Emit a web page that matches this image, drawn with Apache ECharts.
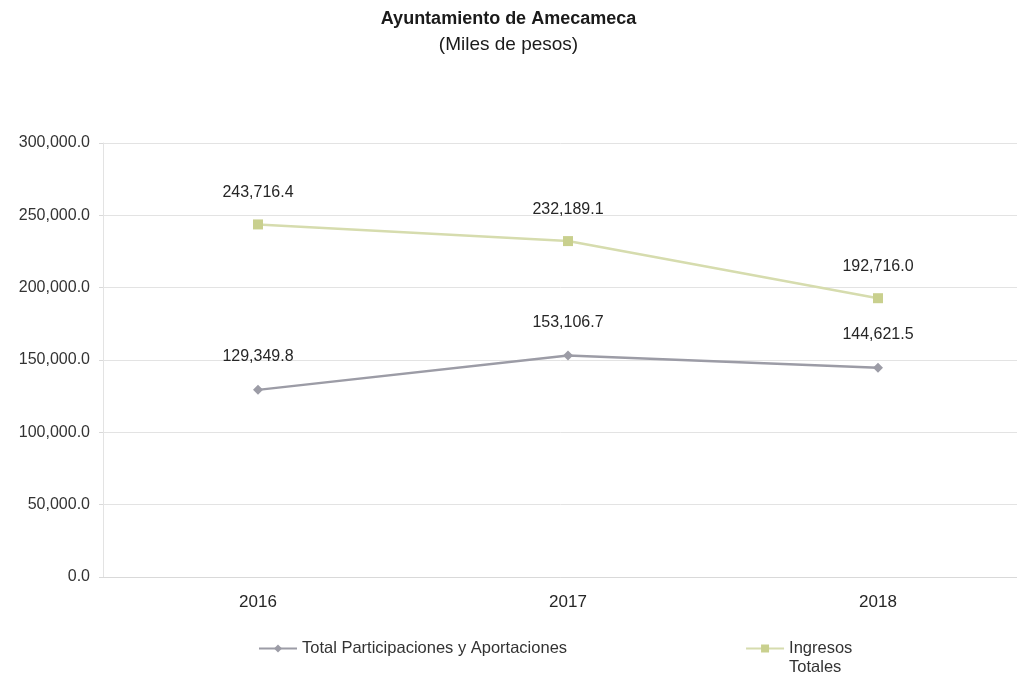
<!DOCTYPE html>
<html>
<head>
<meta charset="utf-8">
<script src="https://cdn.jsdelivr.net/npm/echarts@6/dist/echarts.min.js"></script>
<style>html,body{margin:0;padding:0;background:#fff;}#c{width:1017px;height:675px;}</style>
</head>
<body>
<div id="c"></div>
<script>
const categories = ['2016', '2017', '2018'];
const participaciones = [129349.8, 153106.7, 144621.5];
const ingresos = [243716.4, 232189.1, 192716.0];
const seriesNames = ['Total Participaciones y Aportaciones', 'Ingresos\nTotales'];

const fmt = v => v.toLocaleString('en-US', {minimumFractionDigits: 1, maximumFractionDigits: 1});
const font = 'Liberation Sans, Arial, sans-serif';

const chart = echarts.init(document.getElementById('c'));
chart.setOption({
  animation: false,
  backgroundColor: '#fff',
  title: {
    text: 'Ayuntamiento de Amecameca',
    subtext: '(Miles de pesos)',
    left: 'center',
    top: 5,
    itemGap: 7,
    textStyle: {fontFamily: font, fontSize: 18, fontWeight: 'bold', color: '#1a1a1a'},
    subtextStyle: {fontFamily: font, fontSize: 19, color: '#1a1a1a'}
  },
  grid: {left: 103, top: 143, width: 930, height: 434, outerBoundsMode: 'none'},
  xAxis: {
    type: 'category',
    data: categories,
    boundaryGap: true,
    axisLine: {show: true, lineStyle: {color: '#d9d9d9'}},
    axisTick: {show: false},
    axisLabel: {fontFamily: font, fontSize: 17, color: '#262626', margin: 17}
  },
  yAxis: {
    type: 'value',
    min: 0, max: 300000, interval: 50000,
    axisLine: {show: true, lineStyle: {color: '#e3e3e3'}},
    axisTick: {show: true, length: 4, lineStyle: {color: '#d9d9d9'}},
    splitLine: {lineStyle: {color: '#e3e3e3'}},
    axisLabel: {fontFamily: font, fontSize: 16, color: '#333', margin: 13, formatter: v => fmt(v)}
  },
  legend: {
    top: 615,
    left: 253,
    itemGap: 178,
    itemWidth: 38,
    itemHeight: 10,
    textStyle: {fontFamily: font, fontSize: 16.5, color: '#333', lineHeight: 19},
    formatter: n => n.indexOf('\n') >= 0 ? ' \n' + n : n,
    data: seriesNames
  },
  series: [
    {
      name: seriesNames[0],
      type: 'line',
      data: participaciones,
      symbol: 'diamond',
      symbolSize: 10,
      lineStyle: {color: '#9c9ca6', width: 2.5},
      itemStyle: {color: '#9c9ca6'},
      label: {show: true, position: 'top', distance: 20, fontFamily: font, fontSize: 16, color: '#262626', formatter: p => fmt(p.value)}
    },
    {
      name: seriesNames[1],
      type: 'line',
      data: ingresos,
      symbol: 'rect',
      symbolSize: 10,
      lineStyle: {color: '#d6dcae', width: 2.5},
      itemStyle: {color: '#c9d08e'},
      label: {show: true, position: 'top', distance: 19, fontFamily: font, fontSize: 16, color: '#262626', formatter: p => fmt(p.value)}
    }
  ]
});
</script>
</body>
</html>
